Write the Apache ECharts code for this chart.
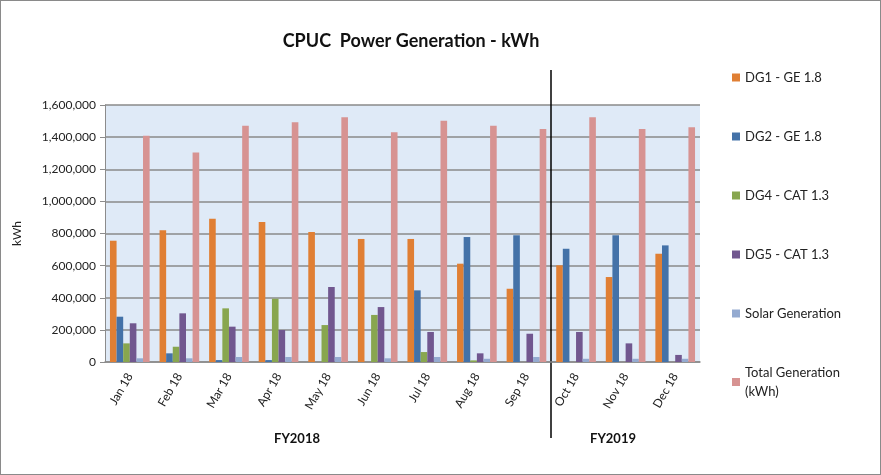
<!DOCTYPE html>
<html>
<head>
<meta charset="utf-8">
<script src="https://cdn.jsdelivr.net/npm/echarts@6/dist/echarts.min.js"></script>
<style>
  html, body { margin: 0; padding: 0; background: #fff; }
  #main { width: 879px; height: 473px; border: 1px solid #8a8a8a; }
</style>
</head>
<body>
<div id="main"></div>
<script>
// months shown on the x axis
var months = ['Jan 18', 'Feb 18', 'Mar 18', 'Apr 18', 'May 18', 'Jun 18',
              'Jul 18', 'Aug 18', 'Sep 18', 'Oct 18', 'Nov 18', 'Dec 18'];
// generation per unit, kWh
var dg1   = [755000, 820000, 892000, 872000, 809000, 766000, 766000, 612000, 456000, 602000, 529000, 674000];
var dg2   = [282000, 54000, 12000, 12000, 0, 0, 446000, 778000, 789000, 705000, 789000, 726000];
var dg4   = [116000, 95000, 334000, 394000, 230000, 293000, 62000, 10000, 0, 0, 0, 0];
var dg5   = [241000, 303000, 220000, 199000, 467000, 342000, 187000, 54000, 176000, 187000, 116000, 44000];
var solar = [23000, 23000, 31000, 31000, 31000, 23000, 31000, 20000, 31000, 20000, 20000, 20000];
var total = [1409000, 1305000, 1471000, 1492000, 1523000, 1430000, 1502000, 1471000, 1451000, 1523000, 1451000, 1461000];

var fontFam = 'Lato, "Open Sans", sans-serif';
var chart = echarts.init(document.getElementById('main'));

function bar(name, data, color) {
    return {
        name: name, type: 'bar', data: data,
        barGap: '0%', barCategoryGap: '20%',
        itemStyle: { color: color }
    };
}

var option = {
    animation: false,
    textStyle: { fontFamily: fontFam },
    grid: { left: 104, right: 180, top: 104, bottom: 112, backgroundColor: '#dfeaf7', show: true, borderWidth: 0 },
    legend: {
        orient: 'vertical', left: 726, top: 62,
        itemWidth: 8, itemHeight: 8, itemGap: 40,
        icon: 'rect',
        textStyle: { fontSize: 13, color: '#222', fontFamily: fontFam, lineHeight: 19 },
        formatter: function (n) { return n === 'Total Generation (kWh)' ? 'Total Generation\n(kWh)' : n; }
    },
    xAxis: {
        type: 'category', data: months,
        axisLine: { lineStyle: { color: '#8c8c8c', width: 1.5 } },
        axisTick: { show: false },
        axisLabel: { rotate: 60, fontSize: 12, color: '#222', margin: 12, interval: 0 }
    },
    yAxis: {
        type: 'value', min: 0, max: 1600000, interval: 200000,
        name: 'kWh', nameLocation: 'middle', nameRotate: 90, nameGap: 82,
        nameTextStyle: { fontSize: 12, color: '#222' },
        axisLine: { show: true, lineStyle: { color: '#8c8c8c' } },
        axisTick: { show: true, length: 5, lineStyle: { color: '#8c8c8c' } },
        splitLine: { lineStyle: { color: '#8a8a8a', width: 1.5 } },
        axisLabel: {
            fontSize: 12, color: '#222', margin: 9,
            formatter: function (v) { return v.toLocaleString('en-US'); }
        }
    },
    series: [
        bar('DG1 - GE 1.8', dg1, '#e07f34'),
        bar('DG2 - GE 1.8', dg2, '#4472a8'),
        bar('DG4 - CAT 1.3', dg4, '#88a64f'),
        bar('DG5 - CAT 1.3', dg5, '#71578f'),
        bar('Solar Generation', solar, '#94aad0'),
        bar('Total Generation (kWh)', total, '#d79392')
    ]
};
chart.setOption(option);

// divider between fiscal years and the group labels
var xSep = chart.convertToPixel({ xAxisIndex: 0 }, 8);
var xOct = chart.convertToPixel({ xAxisIndex: 0 }, 9);
var xDiv = Math.round((xSep + xOct) / 2);
chart.setOption({
    graphic: [
        { type: 'text', x: 410, y: 40,
          style: { text: 'CPUC  Power Generation - kWh', fontSize: 18, fontWeight: 'bold', fill: '#111', fontFamily: fontFam,
                   align: 'center', verticalAlign: 'middle' } },
        { type: 'line', shape: { x1: xDiv, y1: 69, x2: xDiv, y2: 437 }, style: { stroke: '#000', lineWidth: 1.5 } },
        { type: 'text', x: 296, y: 438, style: { text: 'FY2018', fontSize: 13, fontWeight: 'bold', fill: '#111', align: 'center', verticalAlign: 'middle', fontFamily: fontFam } },
        { type: 'text', x: 612, y: 438, style: { text: 'FY2019', fontSize: 13, fontWeight: 'bold', fill: '#111', align: 'center', verticalAlign: 'middle', fontFamily: fontFam } }
    ]
});
</script>
</body>
</html>
